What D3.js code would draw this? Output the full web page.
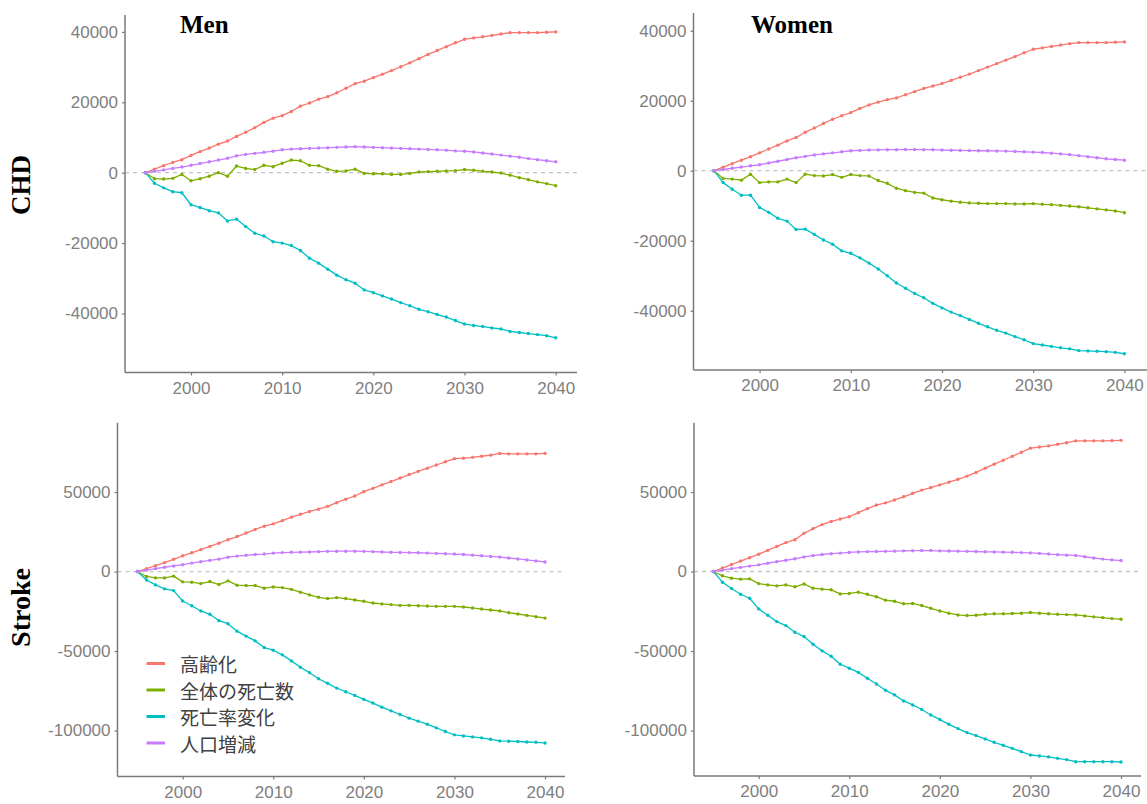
<!DOCTYPE html>
<html>
<head>
<meta charset="utf-8">
<script src="https://cdn.jsdelivr.net/npm/d3@7"></script>
<style>
  html, body { margin: 0; padding: 0; background: #fff; }
  svg { display: block; }
</style>
</head>
<body>
<svg id="chart" width="1147" height="804"></svg>
<script>
// ---- data ---------------------------------------------------------------
const years = [1995,1996,1997,1998,1999,2000,2001,2002,2003,2004,
               2005,2006,2007,2008,2009,2010,2011,2012,2013,2014,
               2015,2016,2017,2018,2019,2020,2021,2022,2023,2024,
               2025,2026,2027,2028,2029,2030,2031,2032,2033,2034,
               2035,2036,2037,2038,2039,2040];

const seriesNames  = ["高齢化", "全体の死亡数", "死亡率変化", "人口増減"];
const seriesColors = ["#F8766D", "#7CAE00", "#00BFC4", "#C77CFF"];

const xTicks      = [2000, 2010, 2020, 2030, 2040];
const chdTicks    = [-40000, -20000, 0, 20000, 40000];
const strokeTicks = [-100000, -50000, 0, 50000];

// CHD, men
const menChdAging = [0,1000,2000,2900,3700,4900,6000,7000,8100,9000,
  10300,11500,12800,14300,15500,16200,17400,18900,19800,20900,
  21600,22700,24000,25300,26000,27000,28000,29000,30100,31200,
  32400,33600,34700,35800,36900,37900,38300,38600,39000,39400,
  39800,39800,39800,39800,39900,40000];
const menChdTotal = [0,-1700,-1800,-1600,-500,-2300,-1700,-1000,0,-1000,
  1900,1200,900,2100,1700,2700,3600,3400,2100,2000,
  1000,400,500,1000,-200,-300,-300,-500,-500,-200,
  200,300,400,500,600,900,700,400,200,-100,
  -700,-1400,-2000,-2600,-3100,-3700];
const menChdRate = [0,-3000,-4300,-5400,-5700,-9100,-9900,-10800,-11400,-13700,
  -13200,-15300,-17200,-18000,-19600,-20000,-20700,-22100,-24300,-25700,
  -27400,-29100,-30400,-31400,-33300,-34100,-35000,-35900,-36900,-37800,
  -38800,-39500,-40300,-41000,-42000,-43000,-43400,-43700,-44100,-44400,
  -45100,-45400,-45700,-46000,-46300,-46900];
const menChdPop = [0,400,800,1200,1600,2100,2600,3100,3600,4100,
  4800,5200,5500,5800,6100,6500,6700,6800,6900,7000,
  7100,7200,7300,7400,7300,7200,7100,7000,6900,6800,
  6700,6600,6500,6400,6200,6100,5900,5600,5300,5000,
  4700,4400,4000,3700,3400,3100];

// CHD, women
const womenChdAging = [0,1000,2000,3000,4000,5100,6200,7300,8500,9500,
  11000,12200,13500,14700,15700,16600,17800,18800,19600,20300,
  20800,21700,22600,23500,24200,24900,25800,26700,27600,28600,
  29600,30600,31600,32600,33700,34700,35100,35500,35900,36300,
  36600,36600,36600,36600,36700,36800];
const womenChdTotal = [0,-2200,-2400,-2700,-1000,-3400,-3200,-3200,-2400,-3400,
  -1000,-1400,-1500,-1100,-1900,-1100,-1400,-1500,-2800,-3600,
  -5000,-5700,-6200,-6400,-7800,-8300,-8700,-9000,-9200,-9300,
  -9400,-9400,-9400,-9500,-9500,-9400,-9600,-9700,-9900,-10100,
  -10300,-10600,-10900,-11200,-11500,-12000];
const womenChdRate = [0,-3400,-5300,-7000,-7000,-10500,-11900,-13600,-14400,-16800,
  -16700,-18200,-19800,-21000,-22900,-23600,-24900,-26400,-28100,-30000,
  -32100,-33600,-35100,-36300,-37900,-39200,-40400,-41400,-42500,-43600,
  -44600,-45600,-46400,-47400,-48300,-49400,-49800,-50200,-50600,-50900,
  -51400,-51500,-51600,-51700,-51900,-52300];
const womenChdPop = [0,350,700,1050,1400,1700,2200,2700,3200,3700,
  4100,4500,4800,5100,5400,5700,5800,5900,5950,6000,
  6000,6050,6050,6000,6000,5900,5850,5800,5750,5700,
  5700,5650,5600,5500,5400,5300,5200,5000,4800,4600,
  4300,4000,3700,3400,3200,3000];

// Stroke, men
const menStrokeAging = [0,1800,3700,5600,7700,9900,11800,13800,15800,17800,
  20000,22000,24200,26500,28500,30000,32000,34200,36000,37800,
  39200,41000,43300,45500,47500,50200,52300,54500,56600,58800,
  61000,63000,65000,67000,69000,71000,71300,71800,72500,73200,
  74300,74000,74000,74000,74000,74300];
const menStrokeTotal = [0,-3100,-4000,-4000,-2900,-6500,-6700,-7600,-6300,-8200,
  -5900,-8600,-8800,-8800,-10500,-9700,-10100,-11200,-13000,-14700,
  -16200,-17000,-16400,-17000,-17900,-18700,-19800,-20400,-20800,-21300,
  -21300,-21500,-21700,-21900,-21900,-21900,-22300,-22900,-23600,-24200,
  -24800,-25900,-26700,-27600,-28400,-29300];
const menStrokeRate = [0,-5300,-8400,-10900,-12000,-18500,-21500,-24800,-26900,-30900,
  -32800,-37500,-40600,-43600,-47800,-49500,-52400,-56200,-60200,-63600,
  -67400,-70300,-73300,-75600,-77900,-80400,-82700,-85300,-87600,-89900,
  -92200,-94100,-96000,-98300,-100600,-102700,-103400,-104000,-104600,-105500,
  -106500,-106700,-106900,-107200,-107400,-107800];
const menStrokePop = [0,900,1800,2700,3500,4300,5300,6200,7000,7800,
  9000,9700,10200,10700,11000,11600,11900,12100,12200,12300,
  12500,12700,12800,12800,12800,12700,12500,12300,12100,12000,
  11900,11800,11600,11400,11200,11000,10700,10300,9900,9500,
  9100,8500,7900,7300,6700,6000];

// Stroke, women
const womenStrokeAging = [0,2200,4400,6600,8700,10900,13300,15800,18200,20000,
  24000,27000,29500,31500,33000,34500,37000,39500,41800,43200,
  45000,47000,49200,51200,52800,54500,56200,58000,60000,62300,
  65000,67500,70000,72500,75000,77600,78300,79000,80000,81000,
  82200,82200,82200,82200,82300,82500];
const womenStrokeTotal = [0,-2700,-4200,-4800,-4600,-7600,-8400,-9000,-8400,-9600,
  -7800,-10500,-11100,-11500,-14100,-13800,-13000,-14300,-15900,-18000,
  -18700,-20300,-20100,-21400,-23100,-24800,-26200,-27300,-27700,-27500,
  -26900,-26600,-26600,-26400,-26200,-25800,-26200,-26600,-26900,-27100,
  -27300,-27900,-28500,-29000,-29600,-30000];
const womenStrokeRate = [0,-6700,-10700,-14300,-16800,-23500,-27500,-31500,-34000,-38200,
  -40900,-45700,-49900,-53300,-58300,-60800,-63400,-67100,-70700,-74700,
  -77600,-81400,-83900,-86800,-90200,-93100,-96100,-98800,-101300,-103200,
  -105300,-107400,-109300,-111200,-113300,-115400,-116000,-116600,-117500,-118300,
  -119600,-119600,-119600,-119600,-119600,-119800];
const womenStrokePop = [0,900,1800,2600,3400,4200,5200,6200,7100,8000,
  9200,10000,10700,11200,11600,12000,12300,12500,12600,12700,
  12800,13000,13100,13200,13200,13000,12900,12800,12700,12600,
  12400,12300,12200,12100,11900,11700,11400,11000,10600,10300,
  10100,9300,8500,7800,7300,6900];

// ---- panel layout ---------------------------------------------------------
const panels = [
  { title: "Men",   left: 125,   right: 577,  top: 15,    bottom: 372.5,
    xRange: [145.4, 555.7], yDomain: [-56760, 44800], ticks: chdTicks,
    series: [menChdAging, menChdTotal, menChdRate, menChdPop] },
  { title: "Women", left: 693.5, right: 1147, top: 13,    bottom: 370,
    xRange: [714, 1124.4],  yDomain: [-56940, 45060], ticks: chdTicks,
    series: [womenChdAging, womenChdTotal, womenChdRate, womenChdPop] },
  { title: null,    left: 117.5, right: 565,  top: 422.7, bottom: 776.5,
    xRange: [137.4, 545],   yDomain: [-128900, 93600], ticks: strokeTicks,
    series: [menStrokeAging, menStrokeTotal, menStrokeRate, menStrokePop], legend: true },
  { title: null,    left: 694,   right: 1141, top: 422.7, bottom: 776,
    xRange: [713.4, 1121],  yDomain: [-128600, 93600], ticks: strokeTicks,
    series: [womenStrokeAging, womenStrokeTotal, womenStrokeRate, womenStrokePop] }
];

const svg = d3.select("#chart");
const axisColor = "#7a7a7a";
const labelColor = "#808080";
const tickFont = "'Liberation Sans', Arial, sans-serif";

panels.forEach(p => {
  const g = svg.append("g");
  const x = d3.scaleLinear().domain([years[0], years[years.length - 1]]).range(p.xRange);
  const y = d3.scaleLinear().domain(p.yDomain).range([p.bottom, p.top]);

  // dashed zero reference line
  g.append("line")
    .attr("x1", p.left).attr("x2", p.right)
    .attr("y1", y(0)).attr("y2", y(0))
    .attr("stroke", "#c4c4c4").attr("stroke-width", 1.3)
    .attr("stroke-dasharray", "4,4");

  // series lines with point markers
  const line = d3.line().x((d, i) => x(years[i])).y(d => y(d));
  p.series.forEach((vals, si) => {
    const col = seriesColors[si];
    g.append("path").datum(vals)
      .attr("d", line).attr("fill", "none")
      .attr("stroke", col).attr("stroke-width", 1.3)
      .attr("stroke-linejoin", "round");
    g.selectAll(null).data(vals).enter().append("circle")
      .attr("cx", (d, i) => x(years[i])).attr("cy", d => y(d))
      .attr("r", 1.7).attr("fill", col);
  });

  // y axis
  const yAxis = g.append("g")
    .attr("transform", `translate(${p.left},0)`)
    .call(d3.axisLeft(y).tickValues(p.ticks).tickSize(3).tickPadding(4)
      .tickSizeOuter(0).tickFormat(d => String(d)));
  // x axis
  const xAxis = g.append("g")
    .attr("transform", `translate(0,${p.bottom})`)
    .call(d3.axisBottom(x).tickValues(xTicks).tickSize(3).tickPadding(6)
      .tickSizeOuter(0).tickFormat(d => String(d)));
  [yAxis, xAxis].forEach(a => {
    a.select(".domain").remove();
    a.selectAll(".tick line").attr("stroke", axisColor).attr("stroke-width", 1.2);
    a.selectAll(".tick text").attr("fill", labelColor)
      .style("font-family", tickFont).style("font-size", "17px");
  });
  // axis lines
  g.append("line")
    .attr("x1", p.left).attr("x2", p.left)
    .attr("y1", p.top).attr("y2", p.bottom)
    .attr("stroke", axisColor).attr("stroke-width", 1.5);
  g.append("line")
    .attr("x1", p.left).attr("x2", p.right)
    .attr("y1", p.bottom).attr("y2", p.bottom)
    .attr("stroke", axisColor).attr("stroke-width", 1.5);

  if (p.legend) {
    const lg = g.append("g");
    seriesNames.forEach((name, i) => {
      const cy = 663.5 + i * 26.5;
      lg.append("line")
        .attr("x1", 146.5).attr("x2", 165)
        .attr("y1", cy).attr("y2", cy)
        .attr("stroke", seriesColors[i]).attr("stroke-width", 3);
      lg.append("text")
        .attr("x", 180).attr("y", cy)
        .attr("dominant-baseline", "central")
        .attr("fill", "#404040")
        .style("font-family", "'Noto Sans CJK JP', sans-serif")
        .style("font-size", "19px")
        .text(name);
    });
  }
});

// column titles
const serif = "'Liberation Serif', 'Times New Roman', serif";
svg.append("text").attr("x", 180).attr("y", 33)
  .style("font-family", serif).style("font-weight", "bold").style("font-size", "25px")
  .text("Men");
svg.append("text").attr("x", 751).attr("y", 33)
  .style("font-family", serif).style("font-weight", "bold").style("font-size", "25px")
  .text("Women");

// row titles
svg.append("text")
  .attr("transform", "translate(30,185) rotate(-90)")
  .attr("text-anchor", "middle")
  .style("font-family", serif).style("font-weight", "bold").style("font-size", "27px")
  .text("CHD");
svg.append("text")
  .attr("transform", "translate(30,607.5) rotate(-90)")
  .attr("text-anchor", "middle")
  .style("font-family", serif).style("font-weight", "bold").style("font-size", "28px")
  .text("Stroke");
</script>
</body>
</html>
